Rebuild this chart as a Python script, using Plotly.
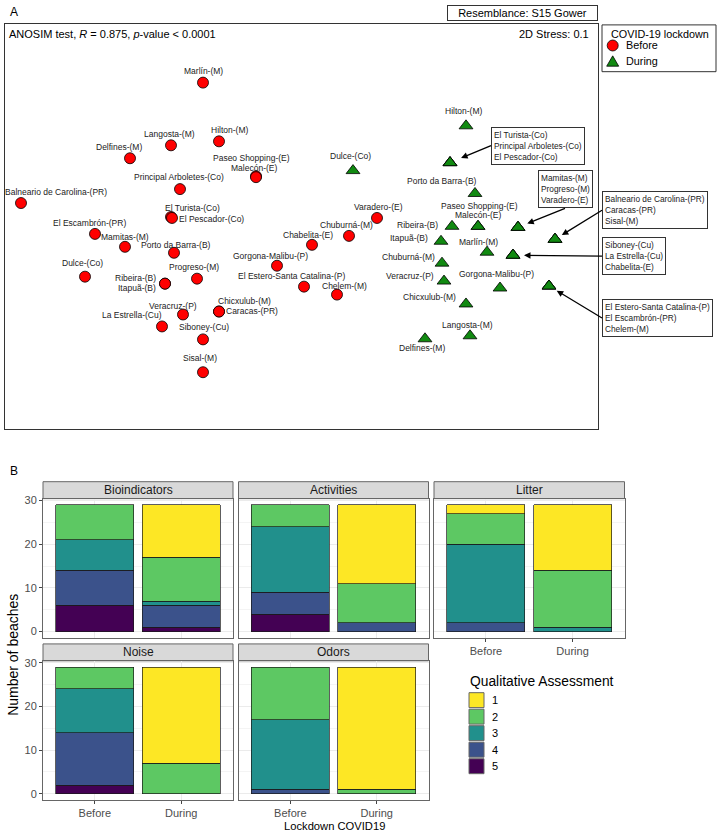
import plotly.graph_objects as go

W, H = 718, 832

# ---------------- Panel A data: NMDS ordination (S15 Gower) ----------------
before_sites = ["Marlín-(M)", "Langosta-(M)", "Hilton-(M)", "Delfines-(M)", "Paseo Shopping-(E)",
                "Malecón-(E)", "Principal Arboletes-(Co)", "Balneario de Carolina-(PR)", "El Turista-(Co)",
                "El Pescador-(Co)", "El Escambrón-(PR)", "Mamitas-(M)", "Porto da Barra-(B)", "Dulce-(Co)",
                "Progreso-(M)", "Ribeira-(B)", "Itapuã-(B)", "Gorgona-Malibu-(P)",
                "El Estero-Santa Catalina-(P)", "Chelem-(M)", "Chabelita-(E)", "Chuburná-(M)", "Varadero-(E)",
                "Chicxulub-(M)", "Caracas-(PR)", "Veracruz-(P)", "La Estrella-(Cu)", "Siboney-(Cu)", "Sisal-(M)"]
before_nmds1 = [-0.485, -0.645, -0.405, -0.85, -0.22, -0.22, -0.6, -1.395, -0.645, -0.64, -1.025, -0.875,
                -0.63, -1.075, -0.515, -0.675, -0.675, -0.115, 0.02, 0.185, 0.06, 0.245, 0.385, -0.405,
                -0.405, -0.585, -0.69, -0.485, -0.485]
before_nmds2 = [0.755, 0.44, 0.46, 0.375, 0.285, 0.28, 0.22, 0.15, 0.08, 0.075, -0.005, -0.07, -0.1, -0.22,
                -0.23, -0.255, -0.255, -0.165, -0.27, -0.31, -0.06, -0.015, 0.075, -0.395, -0.395, -0.41,
                -0.47, -0.535, -0.7]

during_sites = ["Hilton-(M)", "El Turista-(Co)", "Principal Arboletes-(Co)", "El Pescador-(Co)", "Dulce-(Co)",
                "Porto da Barra-(B)", "Mamitas-(M)", "Progreso-(M)", "Varadero-(E)", "Paseo Shopping-(E)",
                "Malecón-(E)", "Ribeira-(B)", "Itapuã-(B)", "Marlín-(M)", "Siboney-(Cu)", "La Estrella-(Cu)",
                "Chabelita-(E)", "Balneario de Carolina-(PR)", "Caracas-(PR)", "Sisal-(M)", "Chuburná-(M)",
                "Veracruz-(P)", "Gorgona-Malibu-(P)", "El Estero-Santa Catalina-(P)", "El Escambrón-(PR)",
                "Chelem-(M)", "Chicxulub-(M)", "Langosta-(M)", "Delfines-(M)"]
during_nmds1 = [0.83, 0.75, 0.75, 0.75, 0.265, 0.875, 1.09, 1.09, 1.09, 0.89, 0.89, 0.76, 0.705, 0.935,
                1.065, 1.065, 1.065, 1.275, 1.275, 1.275, 0.71, 0.72, 1.0, 1.245, 1.245, 1.245, 0.83, 0.85,
                0.625]
during_nmds2 = [0.538, 0.353, 0.353, 0.353, 0.313, 0.198, 0.028, 0.028, 0.028, 0.033, 0.033, 0.033, -0.042,
                -0.097, -0.112, -0.112, -0.112, -0.032, -0.032, -0.032, -0.152, -0.242, -0.277, -0.267,
                -0.267, -0.267, -0.357, -0.517, -0.532]

anosim_R = 0.875
stress_2d = 0.1

# ---------------- Panel B data: qualitative assessment counts ----------------
facets = ["Bioindicators", "Activities", "Litter", "Noise", "Odors"]
periods = ["Before", "During"]
levels = ["1", "2", "3", "4", "5"]
# number of beaches per assessment level 1..5
bio_before = [0, 8, 7, 8, 6]
bio_during = [12, 10, 1, 5, 1]
act_before = [0, 5, 15, 5, 4]
act_during = [18, 9, 0, 2, 0]
lit_before = [2, 7, 18, 2, 0]
lit_during = [15, 13, 1, 0, 0]
noi_before = [0, 5, 10, 12, 2]
noi_during = [22, 7, 0, 0, 0]
odo_before = [0, 12, 16, 1, 0]
odo_during = [28, 1, 0, 0, 0]

# ---------------- styles / layout helpers ----------------
FONT = "Liberation Sans, Arial, sans-serif"
level_colors = ["#FDE725", "#5DC863", "#21908C", "#3B528B", "#440154"]
RED, GREEN = "#FF0000", "#118A11"


def fx(p):
    return p / W


def fy(p):
    return 1 - p / H


# label offsets (pixels, dx right, dy down) from point to label centre
before_label_off = {
    "Marlín-(M)": (0, -12), "Langosta-(M)": (-2, -11), "Hilton-(M)": (10, -11), "Delfines-(M)": (-11, -11),
    "Paseo Shopping-(E)": (-5, -18), "Malecón-(E)": (-2, -9), "Principal Arboletes-(Co)": (-1, -12),
    "Balneario de Carolina-(PR)": (35, -11), "El Turista-(Co)": (21, -9), "El Pescador-(Co)": (39, 1),
    "El Escambrón-(PR)": (-6, -11), "Mamitas-(M)": (0, -10), "Porto da Barra-(B)": (2, -8),
    "Dulce-(Co)": (-3, -14), "Progreso-(M)": (-3, -12), "Ribeira-(B)": (-30, -6), "Itapuã-(B)": (-28, 4),
    "Gorgona-Malibu-(P)": (-7, -10), "El Estero-Santa Catalina-(P)": (-13, -11), "Chelem-(M)": (7, -9),
    "Chabelita-(E)": (-4, -10), "Chuburná-(M)": (-3, -11), "Varadero-(E)": (1, -11),
    "Chicxulub-(M)": (25, -11), "Caracas-(PR)": (33, -1), "Veracruz-(P)": (-10, -9),
    "La Estrella-(Cu)": (-30, -11), "Siboney-(Cu)": (1, -12), "Sisal-(M)": (-3, -14),
}
during_label_off = {
    "Hilton-(M)": (-3, -15), "Dulce-(Co)": (-3, -15), "Porto da Barra-(B)": (-33, -12),
    "Paseo Shopping-(E)": (1, -20), "Malecón-(E)": (0, -11), "Ribeira-(B)": (-35, -1),
    "Itapuã-(B)": (-32, -3), "Marlín-(M)": (-9, -10), "Chuburná-(M)": (-34, -6), "Veracruz-(P)": (-34, -5),
    "Gorgona-Malibu-(P)": (-4, -14), "Chicxulub-(M)": (-37, -7), "Langosta-(M)": (-3, -11),
    "Delfines-(M)": (-3, 9),
}
# grouped labels in boxes with arrows: (sites, ax, ay, xanchor, yanchor, standoff)
during_boxes = [
    (["El Turista-(Co)", "Principal Arboletes-(Co)", "El Pescador-(Co)"], 41, -17, "left", "middle", 12),
    (["Mamitas-(M)", "Progreso-(M)", "Varadero-(E)"], 47, -19, "center", "bottom", 10),
    (["Balneario de Carolina-(PR)", "Caracas-(PR)", "Sisal-(M)"], 47, -29, "left", "middle", 8),
    (["Siboney-(Cu)", "La Estrella-(Cu)", "Chabelita-(E)"], 89, 1, "left", "middle", 11),
    (["El Estero-Santa Catalina-(P)", "El Escambrón-(PR)", "Chelem-(M)"], 53, 32, "left", "middle", 9),
]

fig = go.Figure()
annotations = []
shapes = []

# ---------------- Panel A ----------------
fig.add_trace(go.Scatter(x=before_nmds1, y=before_nmds2, mode="markers", xaxis="x", yaxis="y",
                         marker=dict(symbol="circle", size=11, color=RED, line=dict(color="black", width=0.8)),
                         showlegend=False, hoverinfo="text", text=before_sites))
fig.add_trace(go.Scatter(x=during_nmds1, y=during_nmds2, mode="markers", xaxis="x", yaxis="y",
                         marker=dict(symbol="triangle-up", size=12, color=GREEN,
                                     line=dict(color="black", width=0.8)),
                         showlegend=False, hoverinfo="text", text=during_sites))

lab_font = dict(family=FONT, size=8.5, color="#222222")
for s, x, y in zip(before_sites, before_nmds1, before_nmds2):
    dx, dy = before_label_off[s]
    annotations.append(dict(x=x, y=y, xref="x", yref="y", text=s, showarrow=False, xshift=dx, yshift=-dy,
                            font=lab_font))
for s, x, y in zip(during_sites, during_nmds1, during_nmds2):
    if s in during_label_off:
        dx, dy = during_label_off[s]
        annotations.append(dict(x=x, y=y, xref="x", yref="y", text=s, showarrow=False, xshift=dx,
                                yshift=-dy, font=lab_font))
for sites, ax, ay, xa, ya, so in during_boxes:
    i = during_sites.index(sites[0])
    annotations.append(dict(x=during_nmds1[i], y=during_nmds2[i], xref="x", yref="y",
                            text="<br>".join(sites), align="left", showarrow=True, axref="pixel",
                            ayref="pixel", ax=ax, ay=ay, xanchor=xa, yanchor=ya, standoff=so,
                            arrowhead=2, arrowsize=1, arrowwidth=1.3, arrowcolor="black",
                            bordercolor="#333333", borderwidth=1, borderpad=2, bgcolor="white",
                            font=dict(family=FONT, size=8.3, color="#222222")))

annotations += [
    dict(x=fx(8), y=fy(8), xref="paper", yref="paper", text="A", showarrow=False, xanchor="left",
         yanchor="middle", font=dict(family=FONT, size=12, color="black")),
    dict(x=fx(7), y=fy(30), xref="paper", yref="paper",
         text=f"ANOSIM test, <i>R</i> = {anosim_R}, <i>p</i>-value &lt; 0.0001", showarrow=False,
         xanchor="left", yanchor="middle", font=dict(family=FONT, size=11, color="black")),
    dict(x=fx(591), y=fy(30), xref="paper", yref="paper", text=f"2D Stress: {stress_2d}", showarrow=False,
         xanchor="right", yanchor="middle", font=dict(family=FONT, size=11, color="black")),
    dict(x=fx(522), y=fy(9.5), xref="paper", yref="paper", text="Resemblance: S15 Gower", showarrow=False,
         xanchor="center", yanchor="middle", width=147, height=12, borderpad=1, bordercolor="#333333",
         borderwidth=1, font=dict(family=FONT, size=11, color="black")),
    # legend A
    dict(x=fx(609), y=fy(30.5), xref="paper", yref="paper", text="COVID-19 lockdown", showarrow=False,
         xanchor="left", yanchor="middle", font=dict(family=FONT, size=10.8, color="black")),
    dict(x=fx(624), y=fy(41.5), xref="paper", yref="paper", text="Before", showarrow=False,
         xanchor="left", yanchor="middle", font=dict(family=FONT, size=10.8, color="black")),
    dict(x=fx(624), y=fy(57.5), xref="paper", yref="paper", text="During", showarrow=False,
         xanchor="left", yanchor="middle", font=dict(family=FONT, size=10.8, color="black")),
]
shapes += [
    dict(type="rect", xref="paper", yref="paper", x0=fx(602), x1=fx(716), y0=fy(68), y1=fy(21),
         line=dict(color="#333333", width=1), fillcolor="rgba(0,0,0,0)"),
    dict(type="circle", xref="paper", yref="paper", x0=fx(607.2), x1=fx(618.2), y0=fy(47.2), y1=fy(36.2),
         line=dict(color="black", width=0.8), fillcolor=RED),
    dict(type="path", xref="paper", yref="paper",
         path=f"M {fx(606.7)},{fy(62.5)} L {fx(618.7)},{fy(62.5)} L {fx(612.7)},{fy(52.1)} Z",
         line=dict(color="black", width=0.8), fillcolor=GREEN),
]

# ---------------- Panel B ----------------
counts = {
    "Bioindicators": (bio_before, bio_during),
    "Activities": (act_before, act_during),
    "Litter": (lit_before, lit_during),
    "Noise": (noi_before, noi_during),
    "Odors": (odo_before, odo_during),
}
# panel pixel boxes: (x0, x1, y_top_plot, y_bottom_plot, strip_top)
panel_px = {
    "Bioindicators": (43, 233, 497, 637, 480),
    "Activities": (238.5, 428.5, 497, 637, 480),
    "Litter": (434, 624.5, 497, 637, 480),
    "Noise": (43, 233, 660, 800, 643),
    "Odors": (238.5, 428.5, 660, 800, 643),
}
show_x = {"Bioindicators": False, "Activities": False, "Litter": True, "Noise": True, "Odors": True}
show_y = {"Bioindicators": True, "Activities": False, "Litter": False, "Noise": True, "Odors": False}

layout_axes = {}
for n, f in enumerate(facets, start=2):
    bef, dur = counts[f]
    for k in range(len(levels) - 1, -1, -1):
        yv = [bef[k] if bef[k] > 0 else None, dur[k] if dur[k] > 0 else None]
        fig.add_trace(go.Bar(x=periods, y=yv, width=0.9, xaxis=f"x{n}", yaxis=f"y{n}",
                             marker=dict(color=level_colors[k], line=dict(color="#1a1a1a", width=0.7)),
                             name=levels[k], showlegend=False))
    x0, x1, yt, yb, st = panel_px[f]
    layout_axes[f"xaxis{n}"] = dict(
        domain=[fx(x0), fx(x1)], anchor=f"y{n}", type="category", range=[-0.6, 1.6],
        showgrid=True, gridcolor="#EBEBEB", gridwidth=1, zeroline=False,
        showline=True, mirror=True, linecolor="#666666", linewidth=1,
        ticks="outside" if show_x[f] else "", ticklen=3, tickcolor="#444444",
        showticklabels=show_x[f], tickfont=dict(family=FONT, size=11, color="#4D4D4D"), fixedrange=True)
    layout_axes[f"yaxis{n}"] = dict(
        domain=[fy(yb), fy(yt)], anchor=f"x{n}", range=[-1.45, 30.45], tickvals=[0, 10, 20, 30],
        showgrid=True, gridcolor="#EBEBEB", gridwidth=1, zeroline=False,
        minor=dict(tickvals=[5, 15, 25], showgrid=True, gridcolor="#F4F4F4", gridwidth=0.6),
        showline=True, mirror=True, linecolor="#666666", linewidth=1,
        ticks="outside" if show_y[f] else "", ticklen=3, tickcolor="#444444",
        showticklabels=show_y[f], tickfont=dict(family=FONT, size=11, color="#4D4D4D"), fixedrange=True)
    shapes.append(dict(type="rect", xref="paper", yref="paper", x0=fx(x0), x1=fx(x1), y0=fy(yt), y1=fy(st),
                       line=dict(color="#666666", width=1), fillcolor="#D9D9D9", layer="below"))
    annotations.append(dict(x=fx((x0 + x1) / 2), y=fy((st + yt) / 2), xref="paper", yref="paper", text=f,
                            showarrow=False, xanchor="center", yanchor="middle",
                            font=dict(family=FONT, size=12, color="#1A1A1A")))

annotations += [
    dict(x=fx(8), y=fy(469), xref="paper", yref="paper", text="B", showarrow=False, xanchor="left",
         yanchor="middle", font=dict(family=FONT, size=12, color="black")),
    dict(x=fx(13), y=fy(654), xref="paper", yref="paper", text="Number of beaches", showarrow=False,
         textangle=-90, xanchor="center", yanchor="middle", font=dict(family=FONT, size=14, color="black")),
    dict(x=fx(334), y=fy(826), xref="paper", yref="paper", text="Lockdown COVID19", showarrow=False,
         xanchor="center", yanchor="middle", font=dict(family=FONT, size=11.2, color="black")),
    dict(x=fx(468), y=fy(681), xref="paper", yref="paper", text="Qualitative Assessment", showarrow=False,
         xanchor="left", yanchor="middle", font=dict(family=FONT, size=13.8, color="black")),
]
for k, lv in enumerate(levels):
    top = 692 + k * 16.6
    shapes.append(dict(type="rect", xref="paper", yref="paper", x0=fx(469), x1=fx(484), y0=fy(top + 15),
                       y1=fy(top), line=dict(color="#666666", width=1), fillcolor=level_colors[k]))
    annotations.append(dict(x=fx(490), y=fy(top + 7.5), xref="paper", yref="paper", text=lv,
                            showarrow=False, xanchor="left", yanchor="middle",
                            font=dict(family=FONT, size=11, color="black")))

fig.update_layout(
    width=W, height=H, margin=dict(l=0, r=0, t=0, b=0), autosize=False,
    paper_bgcolor="white", plot_bgcolor="white", barmode="stack", bargap=0.1,
    font=dict(family=FONT, color="black"), showlegend=False,
    xaxis=dict(domain=[fx(5), fx(598)], range=[-1.475, 1.49], anchor="y", showgrid=False, zeroline=False,
               showticklabels=False, ticks="", showline=True, mirror=True, linecolor="#333333", linewidth=1,
               fixedrange=True),
    yaxis=dict(domain=[fy(427), fy(20)], range=[-0.985, 1.05], anchor="x", showgrid=False, zeroline=False,
               showticklabels=False, ticks="", showline=True, mirror=True, linecolor="#333333", linewidth=1,
               fixedrange=True),
    annotations=annotations, shapes=shapes, **layout_axes)

fig.write_html("out.html", config={"displayModeBar": False},
               post_script="document.body.style.margin='0';document.body.style.overflow='hidden';")
